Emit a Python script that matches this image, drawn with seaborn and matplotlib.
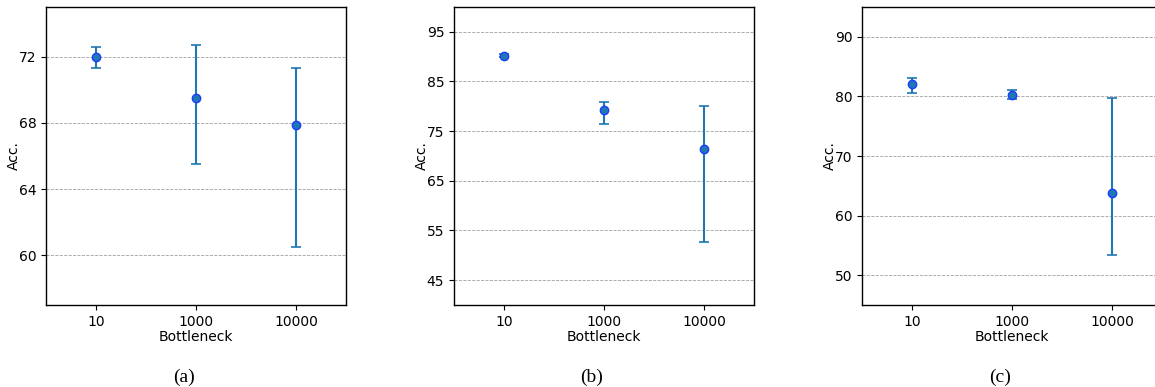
import matplotlib
matplotlib.use('Agg')
import matplotlib.pyplot as plt
import numpy as np
import seaborn as sns

bottlenecks = ['10', '1000', '10000']

# mean, lower end, upper end of the error bar for each panel
acc_a = [72.0, 69.5, 67.9]
low_a = [71.3, 65.5, 60.5]
high_a = [72.6, 72.7, 71.3]

acc_b = [90.2, 79.2, 71.4]
low_b = [90.0, 76.5, 52.7]
high_b = [90.5, 80.9, 80.1]

acc_c = [82.0, 80.3, 63.8]
low_c = [80.5, 79.5, 53.4]
high_c = [83.1, 81.0, 79.8]

panels = [
    ('(a)', acc_a, low_a, high_a, (57, 75), [60, 64, 68, 72]),
    ('(b)', acc_b, low_b, high_b, (40, 100), [45, 55, 65, 75, 85, 95]),
    ('(c)', acc_c, low_c, high_c, (45, 95), [50, 60, 70, 80, 90]),
]

sns.set_style('ticks')
plt.rcParams['font.family'] = ['DejaVu Sans']
plt.rcParams['text.color'] = 'black'
plt.rcParams['axes.labelcolor'] = 'black'
plt.rcParams['xtick.color'] = 'black'
plt.rcParams['ytick.color'] = 'black'

W, H = 1155, 387
fig = plt.figure(figsize=(W / 100, H / 100), dpi=100)

lefts = [46, 454, 862]
for left, (caption, acc, low, high, ylim, yticks) in zip(lefts, panels):
    ax = fig.add_axes([left / W, (H - 305) / H, 300 / W, 298 / H])
    acc = np.array(acc)
    yerr = [acc - np.array(low), np.array(high) - acc]
    ax.errorbar(bottlenecks, acc, yerr=yerr, fmt='none', ecolor='#1f77b4',
                elinewidth=1.5, capsize=3.8, capthick=1.2, zorder=2)
    sns.scatterplot(x=bottlenecks, y=acc, ax=ax, color='#1f77b4', s=36,
                    edgecolor='#1a3cff', linewidth=1.0, zorder=3)
    ax.set_xlim(-0.5, 2.5)
    ax.set_ylim(*ylim)
    ax.set_yticks(yticks)
    ax.yaxis.grid(True, linestyle='--', color='gray', linewidth=0.6, alpha=0.75)
    ax.set_axisbelow(True)
    for s in ax.spines.values():
        s.set_visible(True)
        s.set_color('black')
        s.set_linewidth(1.0)
    ax.tick_params(labelsize=10, length=3.5, width=0.8)
    ax.set_xlabel('Bottleneck', fontsize=10, labelpad=1)
    ax.set_ylabel('Acc.', fontsize=10, labelpad=-1.5)
    fig.text((left + 138) / W, (H - 377) / H, caption, ha='center', va='center',
             fontsize=14, family=['Liberation Serif', 'DejaVu Serif'])

fig.savefig('out.png', dpi=100)
